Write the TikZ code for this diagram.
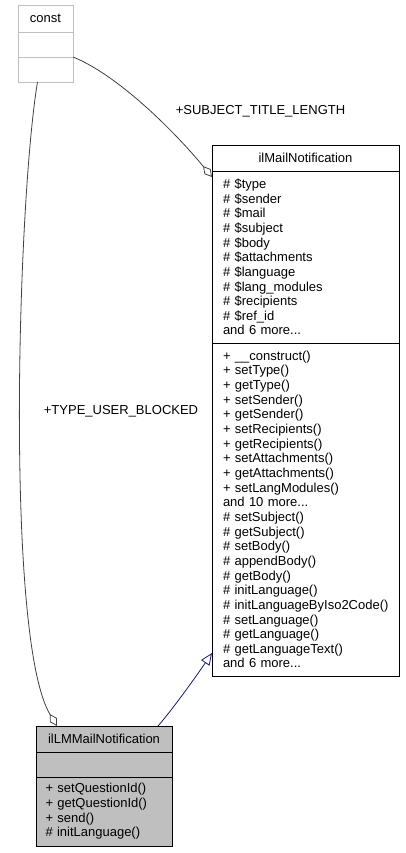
\documentclass[tikz,border=0pt]{standalone}
\usepackage{fontspec}
\setmainfont{Liberation Sans}
\usetikzlibrary{positioning, arrows.meta, calc}

\definecolor{boxgray}{HTML}{BFBFBF}
\definecolor{edgegray}{HTML}{404040}
\definecolor{inhblue}{HTML}{191970}
\newcommand{\umlfont}{\fontsize{13pt}{14.65pt}\selectfont\hyphenpenalty=10000\relax}

\begin{document}
\begin{tikzpicture}[
						x=1pt, y=-1pt,
						classhead/.style={rectangle, draw, line width=0.9pt, outer sep=0pt, inner xsep=0pt, inner ysep=0pt, text width=#1, align=center, minimum height=26pt, font=\umlfont},
						classpart/.style={rectangle, draw, line width=0.9pt, outer sep=0pt, inner xsep=10pt, inner ysep=0pt, text width=#1, align=left, font=\umlfont},
						edgelabel/.style={font=\umlfont, inner sep=0pt},
						aggr/.style={draw=edgegray, line width=0.8pt, -{Diamond[open, length=14pt, width=8pt]}},
						inherit/.style={draw=inhblue, line width=0.8pt, -{Triangle[open, length=12pt, width=10pt]}}
						]
						\useasboundingbox (0,0) rectangle (405,853);
						
						% const
						\node [classhead=55pt, draw=boxgray, minimum height=27pt, anchor=north west] (chead) at (18,5) {const};
						\node [classpart=35pt, draw=boxgray, minimum height=25pt, below=0pt of chead] (cattr) {};
						\node [classpart=35pt, draw=boxgray, minimum height=25pt, below=0pt of cattr] (cmeth) {};
						
						% ilMailNotification
						\node [classhead=187pt, anchor=north west] (mhead) at (212,145) {ilMailNotification};
						\node [classpart=165pt, inner xsep=11pt, minimum height=172pt, below=0pt of mhead] (mattr) {\# \$type\\\# \$sender\\\# \$mail\\\# \$subject\\\# \$body\\\# \$attachments\\\# \$language\\\# \$lang\_modules\\\# \$recipients\\\# \$ref\_id\\and 6 more...};
						\node [classpart=165pt, inner xsep=11pt, minimum height=333pt, below=0pt of mattr] (mmeth) {+ \_\_construct()\\+ setType()\\+ getType()\\+ setSender()\\+ getSender()\\+ setRecipients()\\+ getRecipients()\\+ setAttachments()\\+ getAttachments()\\+ setLangModules()\\and 10 more...\\\# setSubject()\\\# getSubject()\\\# setBody()\\\# appendBody()\\\# getBody()\\\# initLanguage()\\\mbox{\# initLanguageByIso2Code()}\\\# setLanguage()\\\# getLanguage()\\\# getLanguageText()\\and 6 more...};
						
						% ilLMMailNotification
						\node [classhead=136pt, fill=boxgray, anchor=north west] (lhead) at (36,726) {ilLMMailNotification};
						\node [classpart=117pt, inner xsep=9.5pt, fill=boxgray, minimum height=25pt, below=0pt of lhead] (lattr) {};
						\node [classpart=117pt, inner xsep=9.5pt, fill=boxgray, minimum height=69pt, below=0pt of lattr] (lmeth) {+ setQuestionId()\\+ getQuestionId()\\+ send()\\\# initLanguage()};
						
						\draw [aggr] (cmeth.north east) .. controls +(45,18) and +(-37,-45) .. ([yshift=-6pt]mhead.south west);
						\node [edgelabel] (lsubject) at (260.5,111) {+SUBJECT\_TITLE\_LENGTH};
						
						\draw [aggr] ([xshift=-8pt]cmeth.south) .. controls +(-20,120) and +(-52,-86) .. ([xshift=21pt]lhead.north west);
						\node [edgelabel] (ltype) at (121,411) {+TYPE\_USER\_BLOCKED};
						
						\draw [inherit] ([xshift=-14pt]lhead.north east) .. controls +(14,-16) and +(-17,25) .. ([yshift=23pt]mmeth.south west);
					\end{tikzpicture}
\end{document}
